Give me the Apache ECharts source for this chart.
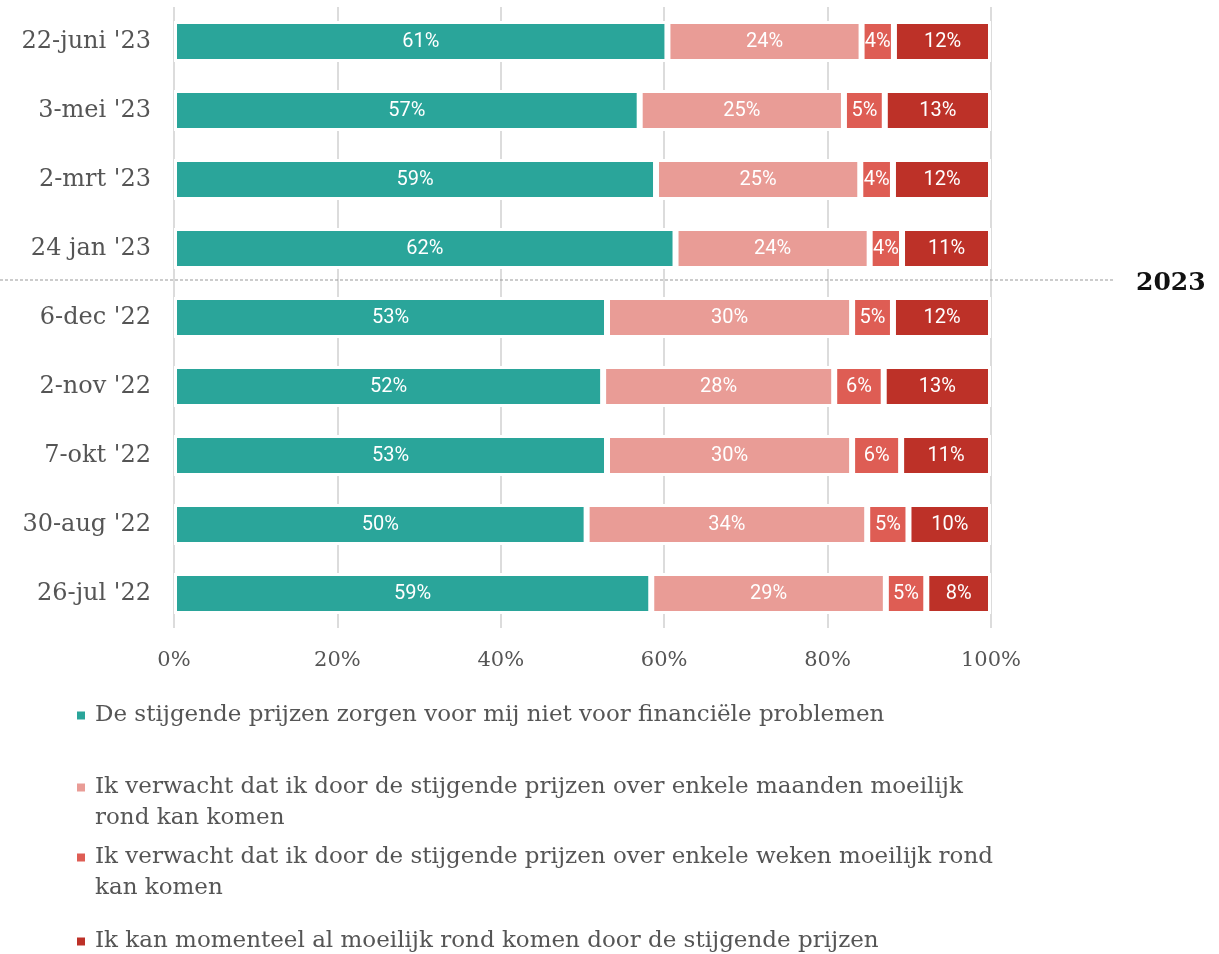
<!DOCTYPE html>
<html>
<head>
<meta charset="utf-8">
<script src="https://cdn.jsdelivr.net/npm/echarts@6/dist/echarts.min.js"></script>
<style>
  html, body { margin: 0; padding: 0; background: #fff; }
  #chart { width: 1219px; height: 954px; }
</style>
</head>
<body>
<div id="chart"></div>
<script>
window.addEventListener('load', () => {
    // peilmomenten, van boven naar onder
    const dates = ["22-juni '23", "3-mei '23", "2-mrt '23", "24 jan '23", "6-dec '22", "2-nov '22", "7-okt '22", "30-aug '22", "26-jul '22"];

    const seriesNames = [
        'De stijgende prijzen zorgen voor mij niet voor financiële problemen',
        'Ik verwacht dat ik door de stijgende prijzen over enkele maanden moeilijk rond kan komen',
        'Ik verwacht dat ik door de stijgende prijzen over enkele weken moeilijk rond kan komen',
        'Ik kan momenteel al moeilijk rond komen door de stijgende prijzen',
    ];
    // zoals de legenda afbreekt
    const legendLabels = [
        'De stijgende prijzen zorgen voor mij niet voor financiële problemen',
        'Ik verwacht dat ik door de stijgende prijzen over enkele maanden moeilijk\nrond kan komen',
        'Ik verwacht dat ik door de stijgende prijzen over enkele weken moeilijk rond\nkan komen',
        'Ik kan momenteel al moeilijk rond komen door de stijgende prijzen',
    ];

    const geenProblemen = [61, 57, 59, 62, 53, 52, 53, 50, 59];
    const maanden = [24, 25, 25, 24, 30, 28, 30, 34, 29];
    const weken = [4, 5, 4, 4, 5, 6, 6, 5, 5];
    const nu = [12, 13, 12, 11, 12, 13, 11, 10, 8];

    const xTicks = [0, 20, 40, 60, 80, 100];

    const colors = ['#2aa59a', '#e99c96', '#de5d54', '#bd3128'];

    const values = [geenProblemen, maanden, weken, nu];
    // rijen tellen niet altijd op tot 100, dus normaliseren
    const totals = dates.map((d, i) => values.reduce((s, arr) => s + arr[i], 0));

    const chart = echarts.init(document.getElementById('chart'));

    const serif = 'DejaVu Serif';

    const legendTops = [704, 776, 846, 930];
    const legends = seriesNames.map((name, i) => {
        const lines = legendLabels[i].split('\n');
        return {
            data: [name],
            orient: 'vertical',
            left: 75,
            top: legendTops[i],
            padding: 0,
            itemWidth: 10,
            itemHeight: 10,
            icon: 'rect',
            selectedMode: false,
            formatter: () => lines.map((l) => '{t|' + l + '}').join('\n'),
            textStyle: {
                padding: lines.length > 1 ? [31, 0, 0, 4] : [0, 0, 0, 4],
                rich: {
                    t: {
                        fontFamily: serif,
                        fontSize: 23,
                        color: '#555',
                        lineHeight: 31,
                    },
                },
            },
        };
    });

    chart.setOption({
        animation: false,
        legend: legends,
        grid: {
            left: 174,
            right: 228,
            top: 7,
            bottom: 326,
            containLabel: false,
        },
        xAxis: {
            type: 'value',
            min: 0,
            max: 100,
            interval: 20,
            axisLine: { show: false },
            axisTick: { show: false },
            splitLine: { lineStyle: { color: '#dcdcdc', width: 2 } },
            axisLabel: {
                margin: 22,
                fontFamily: serif,
                fontSize: 21,
                color: '#555',
                formatter: (v) => (xTicks.includes(v) ? v + '%' : ''),
            },
        },
        yAxis: {
            type: 'category',
            inverse: true,
            data: dates,
            axisLine: { show: false },
            axisTick: { show: false },
            axisLabel: {
                margin: 23,
                fontFamily: serif,
                fontSize: 24,
                color: '#555',
            },
        },
        series: seriesNames.map((name, s) => ({
            name: name,
            type: 'bar',
            stack: 'totaal',
            barWidth: 41,
            itemStyle: {
                color: colors[s],
                borderColor: '#fff',
                borderWidth: 3,
            },
            label: {
                show: true,
                position: 'inside',
                color: '#fff',
                fontFamily: 'Roboto',
                fontSize: 20,
                formatter: (p) => values[s][p.dataIndex] + '%',
            },
            data: values[s].map((v, i) => (v / totals[i]) * 100),
        })),
    });

    // scheidingslijn tussen 2022 en 2023
    const yA = chart.convertToPixel({ yAxisIndex: 0 }, dates[3]);
    const yB = chart.convertToPixel({ yAxisIndex: 0 }, dates[4]);
    const ySplit = (yA + yB) / 2 - 3;
    chart.setOption({
        graphic: [
            {
                type: 'line',
                z: 100,
                shape: { x1: 0, y1: ySplit, x2: 1115, y2: ySplit },
                style: { stroke: '#999', lineWidth: 1, lineDash: [3, 2] },
            },
            {
                type: 'text',
                z: 100,
                x: 1136,
                y: ySplit + 3,
                style: {
                    text: '2023',
                    fontFamily: serif,
                    fontWeight: 'bold',
                    fontSize: 25,
                    fill: '#111',
                    verticalAlign: 'middle',
                },
            },
        ],
    });
});
</script>
</body>
</html>
